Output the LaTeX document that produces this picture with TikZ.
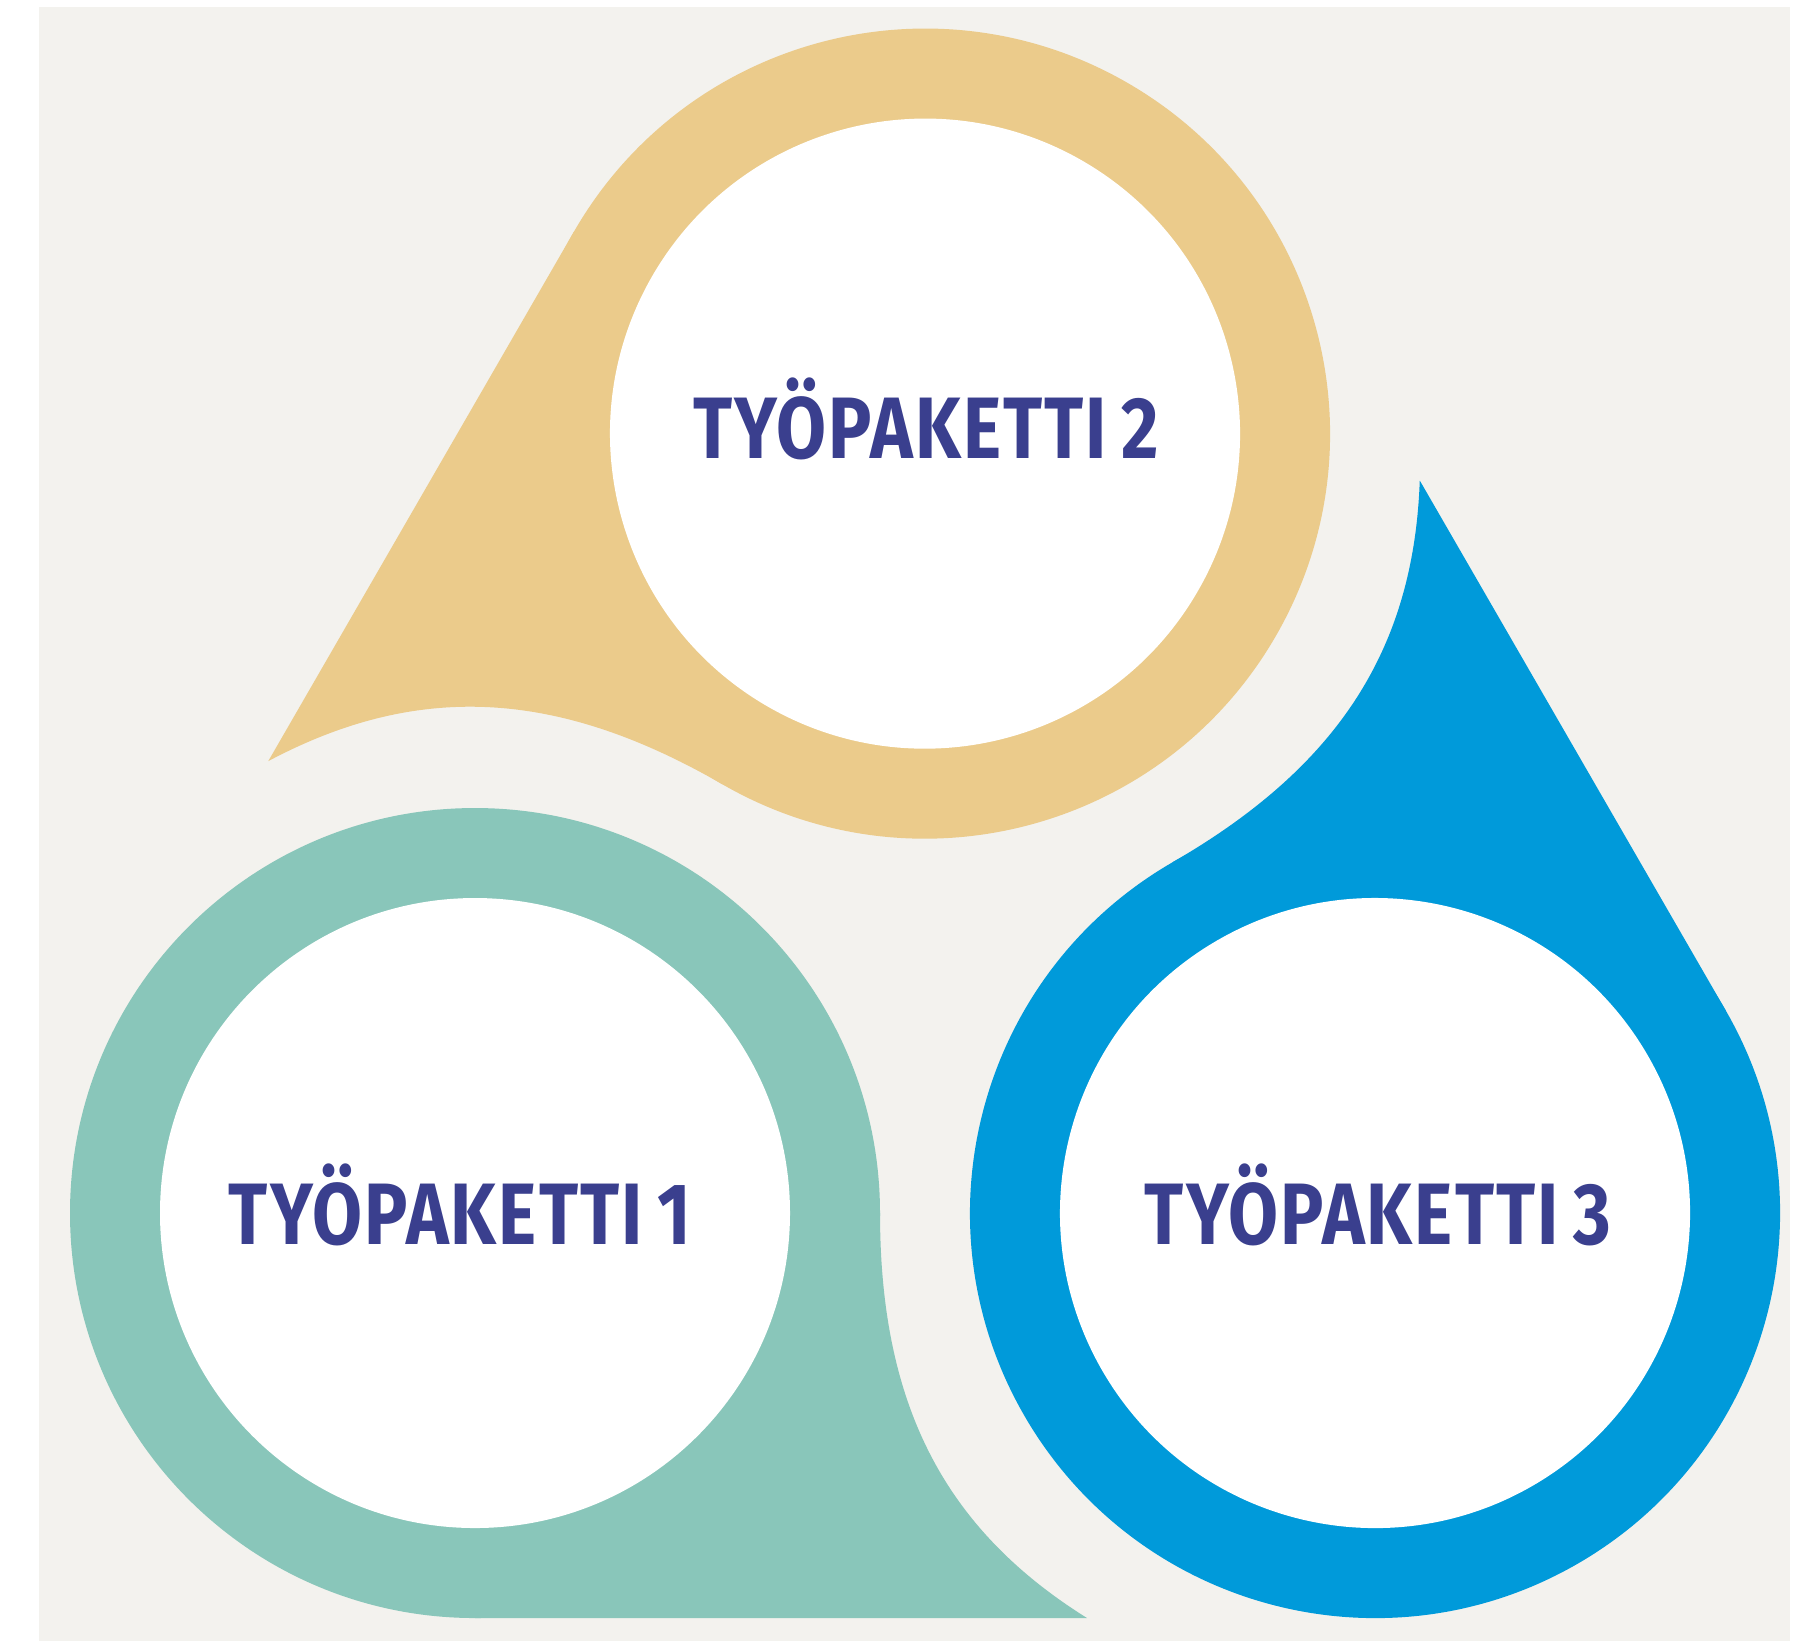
\documentclass[tikz,border=0pt]{standalone}
\usepackage{fontspec}
\usepackage{graphicx}
\setmainfont{Fira Sans}
\newfontfamily\lblfont{Fira Sans}[LetterSpace=3]
\definecolor{bgbeige}{HTML}{F3F2EE}
\definecolor{dropyellow}{HTML}{EBCB8B}
\definecolor{dropteal}{HTML}{89C6BA}
\definecolor{dropblue}{HTML}{009ADA}
\definecolor{labelblue}{HTML}{3A3F8E}
\newcommand\dropshape[1]{%
  \fill[#1] (0,0) circle (405);
  \fill[#1] (0,405) -- (612,405) .. controls (468,315) and (405,190) .. (405,0) -- (0,0) -- cycle;
  \fill[white] (0,0) circle (315);
}
\newcommand\lbltext[1]{\scalebox{0.83}[1]{TYÖPAKETTI\hspace{0.2em}#1}}
\tikzset{
  lbl/.style={text=labelblue, font=\lblfont\fontsize{24.8}{30}\selectfont\bfseries, inner sep=0pt}
}
\begin{document}
\begin{tikzpicture}[x=0.01cm, y=-0.01cm]
\useasboundingbox (0,0) rectangle (1813,1641);
\fill[white] (0,0) rectangle (1813,1641);
\fill[bgbeige] (39,7) rectangle (1790,1641);
\begin{scope}[shift={(475,1213)}]
  \dropshape{dropteal}
\end{scope}
\begin{scope}[shift={(1375,1213)}, rotate=120]
  \dropshape{dropblue}
\end{scope}
\begin{scope}[shift={(925,433.6)}, rotate=240]
  \dropshape{dropyellow}
\end{scope}
\node[lbl] (t1) at (460,1205) {\lbltext{1}};
\node[lbl] (t2) at (926,419) {\lbltext{2}};
\node[lbl] (t3) at (1378,1205) {\lbltext{3}};
\end{tikzpicture}
\end{document}
